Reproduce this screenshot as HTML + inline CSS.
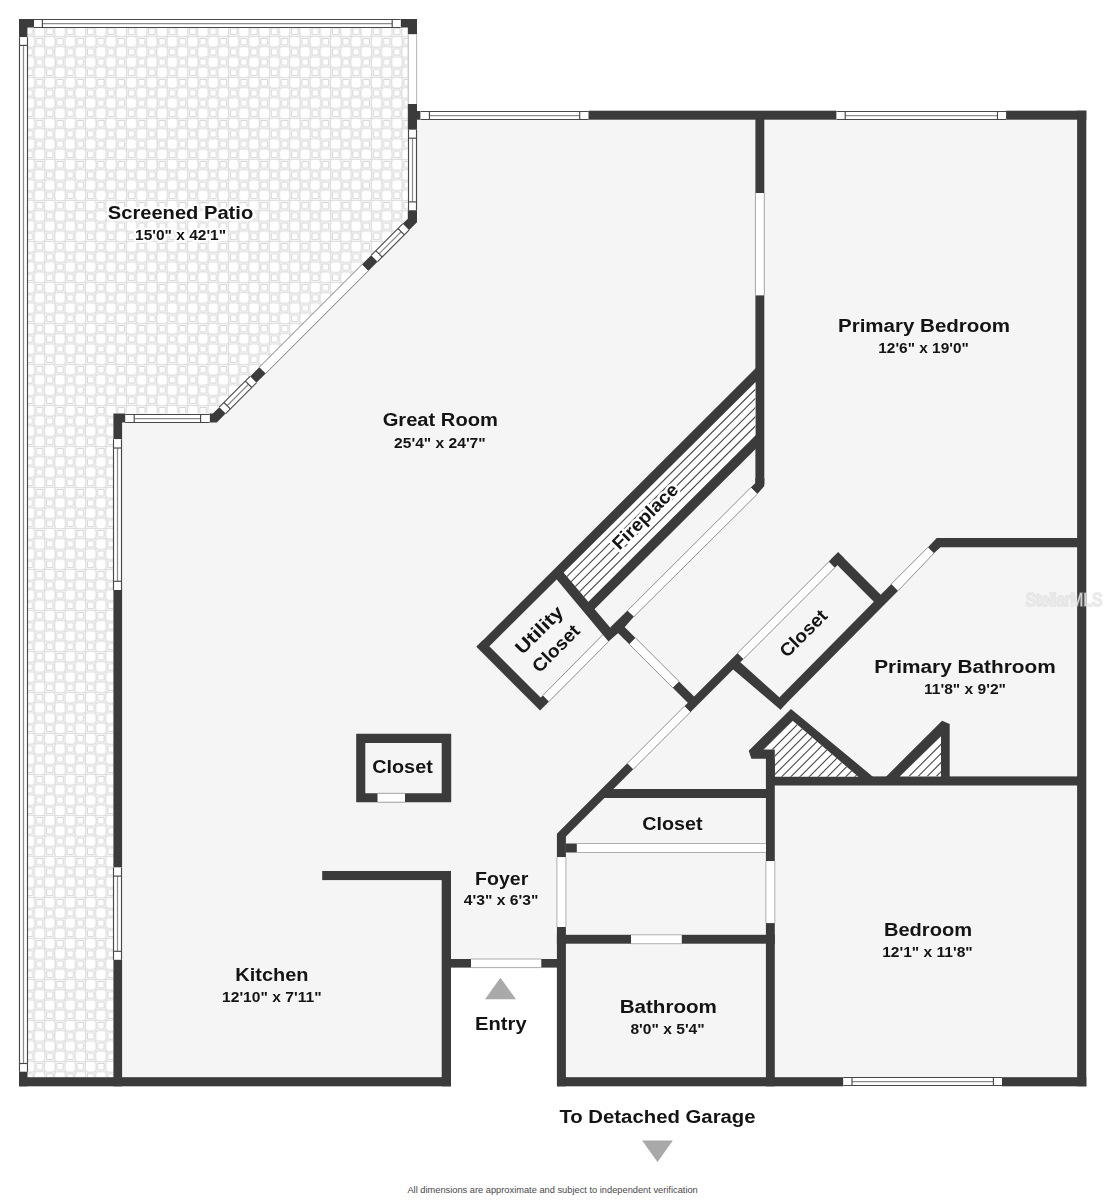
<!DOCTYPE html>
<html lang="en"><head><meta charset="utf-8"><title>Floor plan</title>
<style>html,body{margin:0;padding:0;background:#fff}svg{display:block}</style>
</head><body>
<svg width="1105" height="1200" viewBox="0 0 1105 1200">
<defs>
<pattern id="tile" width="20.42" height="20.5" patternUnits="userSpaceOnUse" patternTransform="translate(34.5 46.8)">
<rect width="20.42" height="20.5" fill="#fff"/>
<g fill="none" stroke="#d8d8d8" stroke-width="1.05">
<rect x="-0.24" y="-0.22" width="10.70" height="10.70" rx="2.6"/>
<rect x="-0.24" y="20.27" width="10.70" height="10.70" rx="2.6"/>
<rect x="20.18" y="-0.22" width="10.70" height="10.70" rx="2.6"/>
<rect x="20.18" y="20.27" width="10.70" height="10.70" rx="2.6"/>
<rect x="-10.46" y="-10.47" width="10.70" height="10.70" rx="2.6"/>
<rect x="-10.46" y="10.03" width="10.70" height="10.70" rx="2.6"/>
<rect x="9.97" y="-10.47" width="10.70" height="10.70" rx="2.6"/>
<rect x="9.97" y="10.03" width="10.70" height="10.70" rx="2.6"/>
<rect x="12.07" y="1.88" width="6.50" height="6.50" rx="0.5"/>
<rect x="1.86" y="12.12" width="6.50" height="6.50" rx="0.5"/>
</g>
</pattern>
<filter id="noLcd" x="0" y="0" width="1105" height="1200" filterUnits="userSpaceOnUse"><feOffset dx="0" dy="0"/></filter>
<filter id="wmBlur" x="1000" y="570" width="105" height="60" filterUnits="userSpaceOnUse"><feGaussianBlur stdDeviation="0.7"/></filter>
<filter id="soft" x="0" y="0" width="440" height="1100" filterUnits="userSpaceOnUse"><feGaussianBlur stdDeviation="0.55"/></filter>
<clipPath id="cpFire"><polygon points="563.5,572.5 755.4,382.3 755.4,435.4 588.2,601.9"/></clipPath>
<clipPath id="cpT1"><polygon points="792.7,720.8 763.3,749.6 774.8,749.6 774.8,776.7 858.4,776.7"/></clipPath>
<clipPath id="cpT2"><polygon points="899.7,776.3 941,736.2 941,776.3"/></clipPath>
</defs>
<rect width="1105" height="1200" fill="#ffffff"/>
<polygon points="27.4,27.4 407.8,27.4 407.8,219 407.6,218.9 212.7,413.6 113.4,413.6 113.4,1077.2 27.4,1077.2" fill="#ffffff"/>
<polygon points="27.4,27.4 407.8,27.4 407.8,219 407.6,218.9 212.7,413.6 113.4,413.6 113.4,1077.2 27.4,1077.2" fill="url(#tile)" filter="url(#soft)"/>
<polygon points="412,115 1082,115 1082,1082 561,1082 561,963 446,963 446,1082 118,1082 118,418 214.6,418 222.43,410.43 410.43,222.43 412,221" fill="#f5f5f5"/>
<polygon points="19,19 34,19 34,27.4 27.4,27.4 27.4,37.2 19,37.2" fill="#3b3b3b"/>
<polygon points="400.6,19 417,19 417,34.4 407.8,34.4 407.8,27.4 400.6,27.4" fill="#3b3b3b"/>
<polygon points="34,19.5 34,27.5 400.6,27.5 400.6,19.5" fill="#ffffff"/>
<line x1="42.4" y1="23.5" x2="392.2" y2="23.5" stroke="#8c8c8c" stroke-width="1.25"/>
<line x1="34" y1="19.5" x2="400.6" y2="19.5" stroke="#484848" stroke-width="1.15"/>
<line x1="34" y1="27.5" x2="400.6" y2="27.5" stroke="#484848" stroke-width="1.15"/>
<line x1="42.4" y1="19.5" x2="42.4" y2="27.5" stroke="#484848" stroke-width="1.15"/>
<line x1="392.2" y1="19.5" x2="392.2" y2="27.5" stroke="#484848" stroke-width="1.15"/>
<polygon points="19.5,37.2 27.5,37.2 27.5,1071.7 19.5,1071.7" fill="#ffffff"/>
<line x1="23.5" y1="45.4" x2="23.5" y2="1063.5" stroke="#8c8c8c" stroke-width="1.25"/>
<line x1="19.5" y1="37.2" x2="19.5" y2="1071.7" stroke="#484848" stroke-width="1.15"/>
<line x1="27.5" y1="37.2" x2="27.5" y2="1071.7" stroke="#484848" stroke-width="1.15"/>
<line x1="19.5" y1="45.4" x2="27.5" y2="45.4" stroke="#484848" stroke-width="1.15"/>
<line x1="19.5" y1="1063.5" x2="27.5" y2="1063.5" stroke="#484848" stroke-width="1.15"/>
<rect x="19" y="1071.7" width="8.5" height="14.6" fill="#3b3b3b"/>
<rect x="19" y="1077.2" width="432" height="9.1" fill="#3b3b3b"/>
<rect x="407.8" y="34.4" width="9.2" height="69.6" fill="#ffffff"/>
<line x1="408.2" y1="34.4" x2="408.2" y2="104" stroke="#b5b5b5" stroke-width="1"/>
<line x1="416.6" y1="34.4" x2="416.6" y2="104" stroke="#b5b5b5" stroke-width="1"/>
<rect x="407.8" y="104" width="9.2" height="25.8" fill="#3b3b3b"/>
<rect x="417" y="111" width="3.6" height="8.7" fill="#3b3b3b"/>
<polygon points="420.6,111.5 420.6,119.5 588.5,119.5 588.5,111.5" fill="#ffffff"/>
<line x1="429.4" y1="115.5" x2="579.7" y2="115.5" stroke="#8c8c8c" stroke-width="1.25"/>
<line x1="420.6" y1="111.5" x2="588.5" y2="111.5" stroke="#484848" stroke-width="1.15"/>
<line x1="420.6" y1="119.5" x2="588.5" y2="119.5" stroke="#484848" stroke-width="1.15"/>
<line x1="429.4" y1="111.5" x2="429.4" y2="119.5" stroke="#484848" stroke-width="1.15"/>
<line x1="579.7" y1="111.5" x2="579.7" y2="119.5" stroke="#484848" stroke-width="1.15"/>
<polygon points="408.5,129.8 416.5,129.8 416.5,210.3 408.5,210.3" fill="#ffffff"/>
<line x1="412.5" y1="138.2" x2="412.5" y2="201.9" stroke="#8c8c8c" stroke-width="1.25"/>
<line x1="408.5" y1="129.8" x2="408.5" y2="210.3" stroke="#484848" stroke-width="1.15"/>
<line x1="416.5" y1="129.8" x2="416.5" y2="210.3" stroke="#484848" stroke-width="1.15"/>
<line x1="408.5" y1="138.2" x2="416.5" y2="138.2" stroke="#484848" stroke-width="1.15"/>
<line x1="408.5" y1="201.9" x2="416.5" y2="201.9" stroke="#484848" stroke-width="1.15"/>
<polygon points="407.8,210.3 417,210.3 417,222.3 409,230.2 402.65,223.85 407.8,218.8" fill="#3b3b3b"/>
<polygon points="402.65,223.85 409,230.2 377.5,261.7 371.15,255.35" fill="#ffffff"/>
<line x1="401.16" y1="231.69" x2="378.99" y2="253.86" stroke="#8c8c8c" stroke-width="1.25"/>
<line x1="402.65" y1="223.85" x2="371.15" y2="255.35" stroke="#484848" stroke-width="1.15"/>
<line x1="409" y1="230.2" x2="377.5" y2="261.7" stroke="#484848" stroke-width="1.15"/>
<line x1="397.98" y1="228.52" x2="404.33" y2="234.87" stroke="#484848" stroke-width="1.15"/>
<line x1="375.82" y1="250.68" x2="382.17" y2="257.03" stroke="#484848" stroke-width="1.15"/>
<polygon points="371.15,255.35 377.5,261.7 368.25,270.95 361.9,264.6" fill="#3b3b3b"/>
<polygon points="361.9,264.6 368.25,270.95 265.7,373.5 259.35,367.15" fill="#ffffff"/>
<line x1="361.9" y1="264.6" x2="259.35" y2="367.15" stroke="#7a7a7a" stroke-width="1"/>
<line x1="368.25" y1="270.95" x2="265.7" y2="373.5" stroke="#7a7a7a" stroke-width="1"/>
<polygon points="259.35,367.15 265.7,373.5 256.4,382.8 250.05,376.45" fill="#3b3b3b"/>
<polygon points="250.05,376.45 256.4,382.8 225.65,413.55 219.3,407.2" fill="#ffffff"/>
<line x1="248.56" y1="384.29" x2="227.14" y2="405.71" stroke="#8c8c8c" stroke-width="1.25"/>
<line x1="250.05" y1="376.45" x2="219.3" y2="407.2" stroke="#484848" stroke-width="1.15"/>
<line x1="256.4" y1="382.8" x2="225.65" y2="413.55" stroke="#484848" stroke-width="1.15"/>
<line x1="245.38" y1="381.12" x2="251.73" y2="387.47" stroke="#484848" stroke-width="1.15"/>
<line x1="223.97" y1="402.53" x2="230.32" y2="408.88" stroke="#484848" stroke-width="1.15"/>
<polygon points="219.3,407.2 225.65,413.55 216.8,422.5 209.6,422.5 209.6,413.6 212.8,413.6" fill="#3b3b3b"/>
<polygon points="125.2,414.5 125.2,422.5 209.6,422.5 209.6,414.5" fill="#ffffff"/>
<line x1="134.2" y1="418.5" x2="200.6" y2="418.5" stroke="#8c8c8c" stroke-width="1.25"/>
<line x1="125.2" y1="414.5" x2="209.6" y2="414.5" stroke="#484848" stroke-width="1.15"/>
<line x1="125.2" y1="422.5" x2="209.6" y2="422.5" stroke="#484848" stroke-width="1.15"/>
<line x1="134.2" y1="414.5" x2="134.2" y2="422.5" stroke="#484848" stroke-width="1.15"/>
<line x1="200.6" y1="414.5" x2="200.6" y2="422.5" stroke="#484848" stroke-width="1.15"/>
<polygon points="113.4,413.6 125.2,413.6 125.2,422.5 122.1,422.5 122.1,439.3 113.4,439.3" fill="#3b3b3b"/>
<polygon points="113.5,439.3 121.5,439.3 121.5,590 113.5,590" fill="#ffffff"/>
<line x1="117.5" y1="448" x2="117.5" y2="581.3" stroke="#8c8c8c" stroke-width="1.25"/>
<line x1="113.5" y1="439.3" x2="113.5" y2="590" stroke="#484848" stroke-width="1.15"/>
<line x1="121.5" y1="439.3" x2="121.5" y2="590" stroke="#484848" stroke-width="1.15"/>
<line x1="113.5" y1="448" x2="121.5" y2="448" stroke="#484848" stroke-width="1.15"/>
<line x1="113.5" y1="581.3" x2="121.5" y2="581.3" stroke="#484848" stroke-width="1.15"/>
<rect x="113.4" y="590" width="8.7" height="277.6" fill="#3b3b3b"/>
<polygon points="113.5,867.6 121.5,867.6 121.5,959.8 113.5,959.8" fill="#ffffff"/>
<line x1="117.5" y1="876.1" x2="117.5" y2="951.3" stroke="#8c8c8c" stroke-width="1.25"/>
<line x1="113.5" y1="867.6" x2="113.5" y2="959.8" stroke="#484848" stroke-width="1.15"/>
<line x1="121.5" y1="867.6" x2="121.5" y2="959.8" stroke="#484848" stroke-width="1.15"/>
<line x1="113.5" y1="876.1" x2="121.5" y2="876.1" stroke="#484848" stroke-width="1.15"/>
<line x1="113.5" y1="951.3" x2="121.5" y2="951.3" stroke="#484848" stroke-width="1.15"/>
<rect x="113.4" y="959.8" width="8.7" height="126.5" fill="#3b3b3b"/>
<rect x="588.5" y="110.7" width="248.1" height="9" fill="#3b3b3b"/>
<polygon points="836.6,111.5 836.6,119.5 1006.1,119.5 1006.1,111.5" fill="#ffffff"/>
<line x1="845.2" y1="115.5" x2="997.5" y2="115.5" stroke="#8c8c8c" stroke-width="1.25"/>
<line x1="836.6" y1="111.5" x2="1006.1" y2="111.5" stroke="#484848" stroke-width="1.15"/>
<line x1="836.6" y1="119.5" x2="1006.1" y2="119.5" stroke="#484848" stroke-width="1.15"/>
<line x1="845.2" y1="111.5" x2="845.2" y2="119.5" stroke="#484848" stroke-width="1.15"/>
<line x1="997.5" y1="111.5" x2="997.5" y2="119.5" stroke="#484848" stroke-width="1.15"/>
<rect x="1006.1" y="110.7" width="80.2" height="9" fill="#3b3b3b"/>
<rect x="1077.1" y="110.7" width="9.2" height="975.6" fill="#3b3b3b"/>
<rect x="557" y="1077.2" width="286.4" height="9.1" fill="#3b3b3b"/>
<polygon points="843.4,1077.5 843.4,1085.5 1002,1085.5 1002,1077.5" fill="#ffffff"/>
<line x1="852" y1="1081.5" x2="993.4" y2="1081.5" stroke="#8c8c8c" stroke-width="1.25"/>
<line x1="843.4" y1="1077.5" x2="1002" y2="1077.5" stroke="#484848" stroke-width="1.15"/>
<line x1="843.4" y1="1085.5" x2="1002" y2="1085.5" stroke="#484848" stroke-width="1.15"/>
<line x1="852" y1="1077.5" x2="852" y2="1085.5" stroke="#484848" stroke-width="1.15"/>
<line x1="993.4" y1="1077.5" x2="993.4" y2="1085.5" stroke="#484848" stroke-width="1.15"/>
<rect x="1002" y="1077.2" width="84.3" height="9.1" fill="#3b3b3b"/>
<rect x="755.4" y="119" width="8.9" height="74" fill="#3b3b3b"/>
<polygon points="755.4,193 764.3,193 764.3,295.4 755.4,295.4" fill="#ffffff"/>
<line x1="755.4" y1="193" x2="755.4" y2="295.4" stroke="#9a9a9a" stroke-width="0.9"/>
<line x1="764.3" y1="193" x2="764.3" y2="295.4" stroke="#9a9a9a" stroke-width="0.9"/>
<rect x="755.4" y="295.4" width="8.9" height="188.6" fill="#3b3b3b"/>
<polygon points="755.4,478 764.3,478 764.3,486.1 757.3,494.1 750.8,487.6 755.4,483" fill="#3b3b3b"/>
<polygon points="563.5,572.5 755.4,382.3 755.4,435.4 588.2,601.9" fill="#ffffff"/>
<g clip-path="url(#cpFire)" stroke="#5a5a5a" stroke-width="0.9">
<line x1="556.75" y1="586.75" x2="767.35" y2="377.35" stroke="#4a4a4a" stroke-width="1.15"/>
<line x1="561.35" y1="591.35" x2="771.95" y2="381.95" stroke="#4a4a4a" stroke-width="1.15"/>
<line x1="565.95" y1="595.95" x2="776.55" y2="386.55" stroke="#4a4a4a" stroke-width="1.15"/>
<line x1="570.55" y1="600.55" x2="781.15" y2="391.15" stroke="#4a4a4a" stroke-width="1.15"/>
<line x1="575.15" y1="605.15" x2="785.75" y2="395.75" stroke="#4a4a4a" stroke-width="1.15"/>
</g>
<polygon points="476.4,646.7 756.4,367.5 756.4,381.3 489.4,646.3" fill="#3b3b3b"/>
<polygon points="586.9,603.2 756.4,434.4 756.4,448.2 593.9,609.8" fill="#3b3b3b"/>
<polygon points="483.1,640 546.8,703.7 540.05,710.45 476.35,646.75" fill="#3b3b3b"/>
<polygon points="542.95,695.35 549.05,701.45 546.25,704.25 540.15,698.15" fill="#3b3b3b"/>
<polygon points="542.95,695.35 549.05,701.45 608.5,641.6 603,634.5" fill="#ffffff"/>
<line x1="542.95" y1="695.35" x2="603" y2="634.5" stroke="#828282" stroke-width="0.9"/>
<line x1="549.05" y1="701.45" x2="608.5" y2="641.6" stroke="#828282" stroke-width="0.9"/>
<polygon points="554,576.2 562,570.8 610.1,627.5 618.2,633 608.5,641.6" fill="#3b3b3b"/>
<polygon points="610.1,627.5 627.5,610.6 634,616.6 624.8,626.9 617.7,633.4" fill="#3b3b3b"/>
<polygon points="609.5,629 619,625.5 621.5,627.5 612,637.5 606.5,634.5" fill="#3b3b3b"/>
<polygon points="627.5,610.6 634,616.6 757.3,494.1 750.8,487.6" fill="#ffffff"/>
<line x1="627.5" y1="610.6" x2="750.8" y2="487.6" stroke="#828282" stroke-width="0.9"/>
<line x1="634" y1="616.6" x2="757.3" y2="494.1" stroke="#828282" stroke-width="0.9"/>
<polygon points="621.3,623.7 635.6,638 629.3,644.3 615,630" fill="#3b3b3b"/>
<polygon points="635.6,638 629.3,644.3 672.75,687.75 679.05,681.45" fill="#ffffff"/>
<line x1="635.6" y1="638" x2="679.05" y2="681.45" stroke="#828282" stroke-width="0.9"/>
<line x1="629.3" y1="644.3" x2="672.75" y2="687.75" stroke="#828282" stroke-width="0.9"/>
<polygon points="679.05,681.45 696.3,698.7 690,705 672.75,687.75" fill="#3b3b3b"/>
<polygon points="737.6,653 743.55,658.95 690.35,712.15 684.4,706.2" fill="#3b3b3b"/>
<polygon points="684.4,706.2 690.35,712.15 633.2,769.3 627.25,763.35" fill="#ffffff"/>
<line x1="684.4" y1="706.2" x2="627.25" y2="763.35" stroke="#828282" stroke-width="0.9"/>
<line x1="690.35" y1="712.15" x2="633.2" y2="769.3" stroke="#828282" stroke-width="0.9"/>
<polygon points="627.25,763.35 633.2,769.3 565.9,836.6 565.9,857.2 556.9,857.2 556.9,833.7" fill="#3b3b3b"/>
<polygon points="737.6,653 743.55,658.95 834.8,567.7 828.85,561.75" fill="#ffffff"/>
<line x1="737.6" y1="653" x2="828.85" y2="561.75" stroke="#828282" stroke-width="0.9"/>
<line x1="743.55" y1="658.95" x2="834.8" y2="567.7" stroke="#828282" stroke-width="0.9"/>
<polygon points="838.15,552.15 844.25,558.25 834.8,567.7 828.7,561.6" fill="#3b3b3b"/>
<polygon points="838.15,552.15 831.25,559.05 876.1,603.9 883,597" fill="#3b3b3b"/>
<polygon points="891.35,583.95 898.15,590.75 780.3,709.6 779.5,697.3" fill="#3b3b3b"/>
<polygon points="732,668.4 738.4,660.5 779.6,697.4 786.5,703 780.4,709.7" fill="#3b3b3b"/>
<polygon points="891.35,583.95 898.15,590.75 933.9,553.2 928,547.2" fill="#ffffff"/>
<line x1="891.35" y1="583.95" x2="928" y2="547.2" stroke="#828282" stroke-width="0.9"/>
<line x1="898.15" y1="590.75" x2="933.9" y2="553.2" stroke="#828282" stroke-width="0.9"/>
<polygon points="928,547.2 936.7,538 1078,538 1078,547.2 940.5,547.2 933.9,553.2" fill="#3b3b3b"/>
<rect x="766" y="776.4" width="312" height="9.1" fill="#3b3b3b"/>
<polygon points="791,708.9 748.7,750.7 751.4,758.8 766,758.8 766,780 874,780 872.6,776.4" fill="#3b3b3b"/>
<polygon points="792.7,720.8 763.3,749.6 774.8,749.6 774.8,776.7 858.4,776.7" fill="#ffffff"/>
<g clip-path="url(#cpT1)">
<line x1="701.8" y1="801.8" x2="851.8" y2="651.8" stroke="#4a4a4a" stroke-width="1.1"/>
<line x1="706.38" y1="806.38" x2="856.38" y2="656.38" stroke="#4a4a4a" stroke-width="1.1"/>
<line x1="710.95" y1="810.95" x2="860.95" y2="660.95" stroke="#4a4a4a" stroke-width="1.1"/>
<line x1="715.52" y1="815.52" x2="865.52" y2="665.52" stroke="#4a4a4a" stroke-width="1.1"/>
<line x1="720.1" y1="820.1" x2="870.1" y2="670.1" stroke="#4a4a4a" stroke-width="1.1"/>
<line x1="724.67" y1="824.67" x2="874.67" y2="674.67" stroke="#4a4a4a" stroke-width="1.1"/>
<line x1="729.25" y1="829.25" x2="879.25" y2="679.25" stroke="#4a4a4a" stroke-width="1.1"/>
<line x1="733.83" y1="833.83" x2="883.83" y2="683.83" stroke="#4a4a4a" stroke-width="1.1"/>
<line x1="738.4" y1="838.4" x2="888.4" y2="688.4" stroke="#4a4a4a" stroke-width="1.1"/>
<line x1="742.98" y1="842.98" x2="892.98" y2="692.98" stroke="#4a4a4a" stroke-width="1.1"/>
<line x1="747.55" y1="847.55" x2="897.55" y2="697.55" stroke="#4a4a4a" stroke-width="1.1"/>
<line x1="752.12" y1="852.12" x2="902.12" y2="702.12" stroke="#4a4a4a" stroke-width="1.1"/>
<line x1="756.7" y1="856.7" x2="906.7" y2="706.7" stroke="#4a4a4a" stroke-width="1.1"/>
<line x1="761.27" y1="861.27" x2="911.27" y2="711.27" stroke="#4a4a4a" stroke-width="1.1"/>
<line x1="765.85" y1="865.85" x2="915.85" y2="715.85" stroke="#4a4a4a" stroke-width="1.1"/>
<line x1="770.42" y1="870.42" x2="920.42" y2="720.42" stroke="#4a4a4a" stroke-width="1.1"/>
<line x1="775" y1="875" x2="925" y2="725" stroke="#4a4a4a" stroke-width="1.1"/>
<line x1="779.58" y1="879.58" x2="929.58" y2="729.58" stroke="#4a4a4a" stroke-width="1.1"/>
</g>
<polygon points="886.2,776.4 942.1,720.7 949.7,724 949.7,780 886.2,780" fill="#3b3b3b"/>
<polygon points="899.7,776.4 941,736.2 941,776.4" fill="#ffffff"/>
<g clip-path="url(#cpT2)">
<line x1="792.7" y1="892.7" x2="992.7" y2="692.7" stroke="#4a4a4a" stroke-width="1.1"/>
<line x1="797.25" y1="897.25" x2="997.25" y2="697.25" stroke="#4a4a4a" stroke-width="1.1"/>
<line x1="801.8" y1="901.8" x2="1001.8" y2="701.8" stroke="#4a4a4a" stroke-width="1.1"/>
<line x1="806.35" y1="906.35" x2="1006.35" y2="706.35" stroke="#4a4a4a" stroke-width="1.1"/>
</g>
<rect x="765.9" y="758.8" width="8.9" height="102.4" fill="#3b3b3b"/>
<polygon points="765.9,861.2 774.8,861.2 774.8,923.1 765.9,923.1" fill="#ffffff"/>
<line x1="765.9" y1="861.2" x2="765.9" y2="923.1" stroke="#a5a5a5" stroke-width="0.9"/>
<line x1="774.8" y1="861.2" x2="774.8" y2="923.1" stroke="#a5a5a5" stroke-width="0.9"/>
<rect x="765.9" y="923.1" width="8.9" height="163.2" fill="#3b3b3b"/>
<polygon points="602.2,798.1 611.6,788.9 766.9,788.9 766.9,798.1" fill="#3b3b3b"/>
<rect x="565.9" y="843.5" width="11" height="9" fill="#3b3b3b"/>
<polygon points="576.9,843.5 576.9,852.5 765.9,852.5 765.9,843.5" fill="#ffffff"/>
<line x1="576.9" y1="843.5" x2="765.9" y2="843.5" stroke="#a5a5a5" stroke-width="0.9"/>
<line x1="576.9" y1="852.5" x2="765.9" y2="852.5" stroke="#a5a5a5" stroke-width="0.9"/>
<polygon points="556.9,857.2 565.9,857.2 565.9,927 556.9,927" fill="#ffffff"/>
<line x1="556.9" y1="857.2" x2="556.9" y2="927" stroke="#a5a5a5" stroke-width="0.9"/>
<line x1="565.9" y1="857.2" x2="565.9" y2="927" stroke="#a5a5a5" stroke-width="0.9"/>
<rect x="556.9" y="927" width="9" height="159.3" fill="#3b3b3b"/>
<rect x="556.9" y="934.8" width="74.1" height="8.9" fill="#3b3b3b"/>
<polygon points="631,934.8 631,943.7 681.8,943.7 681.8,934.8" fill="#ffffff"/>
<line x1="631" y1="934.8" x2="681.8" y2="934.8" stroke="#a5a5a5" stroke-width="0.9"/>
<line x1="631" y1="943.7" x2="681.8" y2="943.7" stroke="#a5a5a5" stroke-width="0.9"/>
<rect x="681.8" y="934.8" width="93" height="8.9" fill="#3b3b3b"/>
<rect x="450" y="959" width="21" height="8.6" fill="#3b3b3b"/>
<polygon points="471,959 471,967.6 541.3,967.6 541.3,959" fill="#ffffff"/>
<line x1="471" y1="959" x2="541.3" y2="959" stroke="#a5a5a5" stroke-width="0.9"/>
<line x1="471" y1="967.6" x2="541.3" y2="967.6" stroke="#a5a5a5" stroke-width="0.9"/>
<rect x="541.3" y="959" width="16.2" height="8.6" fill="#3b3b3b"/>
<polygon points="500.4,977.7 485,999.3 516,999.3" fill="#a9a9a9"/>
<rect x="322.2" y="871" width="128.8" height="9.1" fill="#3b3b3b"/>
<rect x="441.7" y="871" width="9.3" height="215.3" fill="#3b3b3b"/>
<path fill="#3b3b3b" fill-rule="evenodd" d="M356.2 733.8H451.2V802.2H356.2ZM365.3 743V793.3H441.7V743Z"/>
<polygon points="377.5,793.3 377.5,802.2 405,802.2 405,793.3" fill="#ffffff"/>
<line x1="377.5" y1="793.3" x2="405" y2="793.3" stroke="#a5a5a5" stroke-width="0.9"/>
<line x1="377.5" y1="802.2" x2="405" y2="802.2" stroke="#a5a5a5" stroke-width="0.9"/>
<polygon points="642.1,1140.6 672.9,1140.6 657.5,1162.1" fill="#a9a9a9"/>
<g font-family="'Liberation Sans', Arial, sans-serif" font-weight="bold" fill="#141414" text-anchor="middle" filter="url(#noLcd)">
<text x="180.5" y="219.2" font-size="18.3" textLength="145.4" lengthAdjust="spacingAndGlyphs" stroke="#fff" stroke-opacity="0.8" stroke-width="4.5" paint-order="stroke" stroke-linejoin="round">Screened Patio</text>
<text x="180.55" y="239.6" font-size="14.5" textLength="91.1" lengthAdjust="spacingAndGlyphs" stroke="#fff" stroke-opacity="0.8" stroke-width="4.5" paint-order="stroke" stroke-linejoin="round">15'0&quot; x 42'1&quot;</text>
<text x="440.3" y="426.2" font-size="18.3" textLength="115.2" lengthAdjust="spacingAndGlyphs">Great Room</text>
<text x="439.9" y="447.5" font-size="14.5" textLength="91.6" lengthAdjust="spacingAndGlyphs">25'4&quot; x 24'7&quot;</text>
<text x="924.05" y="331.5" font-size="18.3" textLength="172.1" lengthAdjust="spacingAndGlyphs">Primary Bedroom</text>
<text x="923.55" y="352.7" font-size="14.5" textLength="90.5" lengthAdjust="spacingAndGlyphs">12'6&quot; x 19'0&quot;</text>
<text x="965" y="673.3" font-size="18.3" textLength="181.6" lengthAdjust="spacingAndGlyphs">Primary Bathroom</text>
<text x="965" y="694.3" font-size="14.5" textLength="82" lengthAdjust="spacingAndGlyphs">11'8&quot; x 9'2&quot;</text>
<text x="928" y="935.9" font-size="18.3" textLength="88.2" lengthAdjust="spacingAndGlyphs">Bedroom</text>
<text x="927.45" y="956.7" font-size="14.5" textLength="90.5" lengthAdjust="spacingAndGlyphs">12'1&quot; x 11'8&quot;</text>
<text x="271.9" y="980.8" font-size="18.3" textLength="73.2" lengthAdjust="spacingAndGlyphs">Kitchen</text>
<text x="271.8" y="1002.2" font-size="14.5" textLength="99.6" lengthAdjust="spacingAndGlyphs">12'10&quot; x 7'11&quot;</text>
<text x="501.7" y="884.5" font-size="18.3" textLength="53.2" lengthAdjust="spacingAndGlyphs">Foyer</text>
<text x="501.1" y="905.1" font-size="14.5" textLength="74.6" lengthAdjust="spacingAndGlyphs">4'3&quot; x 6'3&quot;</text>
<text x="500.85" y="1030.3" font-size="18.3" textLength="51.5" lengthAdjust="spacingAndGlyphs">Entry</text>
<text x="668.3" y="1013.2" font-size="18.3" textLength="97.2" lengthAdjust="spacingAndGlyphs">Bathroom</text>
<text x="667.55" y="1034.3" font-size="14.5" textLength="74.3" lengthAdjust="spacingAndGlyphs">8'0&quot; x 5'4&quot;</text>
<text x="402.5" y="773.4" font-size="18.3" textLength="60.6" lengthAdjust="spacingAndGlyphs">Closet</text>
<text x="672.35" y="829.5" font-size="18.3" textLength="60.3" lengthAdjust="spacingAndGlyphs">Closet</text>
<text x="657.5" y="1123.3" font-size="18.3" textLength="196.2" lengthAdjust="spacingAndGlyphs">To Detached Garage</text>
<text transform="translate(649.5 520.8) rotate(-45)" x="0" y="0" font-size="18.3" textLength="84.8" lengthAdjust="spacingAndGlyphs" stroke="#fff" stroke-width="5" paint-order="stroke" stroke-linejoin="round">Fireplace</text>
<text transform="translate(543.6 634.3) rotate(-45)" x="0" y="0" font-size="18.3" textLength="59.5" lengthAdjust="spacingAndGlyphs">Utility</text>
<text transform="translate(560.3 652.8) rotate(-45)" x="0" y="0" font-size="18.3" textLength="59" lengthAdjust="spacingAndGlyphs">Closet</text>
<text transform="translate(807.8 637.7) rotate(-45)" x="0" y="0" font-size="18.3" textLength="59" lengthAdjust="spacingAndGlyphs">Closet</text>
</g>
<text x="552.6" y="1193.2" font-family="'Liberation Sans', Arial, sans-serif" font-size="8.6" fill="#484848" text-anchor="middle" textLength="290.4" lengthAdjust="spacingAndGlyphs">All dimensions are approximate and subject to independent verification</text>
<g font-family="'Liberation Sans', Arial, sans-serif" font-size="18" text-anchor="middle" filter="url(#noLcd)">
<text x="1064" y="606.3" fill="#c9c9c9" fill-opacity="0.6" stroke="#c9c9c9" stroke-opacity="0.35" stroke-width="2" textLength="77" lengthAdjust="spacingAndGlyphs" filter="url(#wmBlur)">StellarMLS</text>
<text x="1064" y="606.3" fill="#ffffff" fill-opacity="0.5" textLength="77" lengthAdjust="spacingAndGlyphs">StellarMLS</text>
</g>
</svg>
</body></html>
